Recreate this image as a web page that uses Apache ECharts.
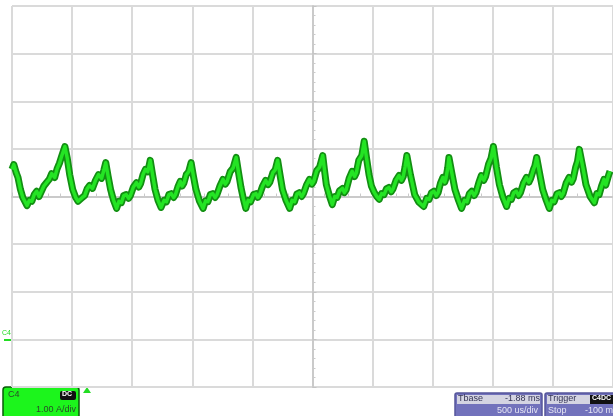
<!DOCTYPE html>
<html>
<head>
<meta charset="utf-8">
<script src="https://cdn.jsdelivr.net/npm/echarts@6/dist/echarts.min.js"></script>
<style>
html,body{margin:0;padding:0;background:#fff;}
#c{width:613px;height:416px;}
</style>
</head>
<body>
<div id="c"></div>
<script>
// Time in divisions (500 us/div), centred on the middle graticule line
const timeDiv = [
  -5.00,-4.97,-4.93,-4.90,-4.86,-4.82,-4.75,-4.71,-4.67,-4.63,-4.59,-4.55,-4.52,-4.47,-4.42,-4.38,-4.34,-4.29,-4.25,-4.21,-4.17,-4.12,-4.08,-4.04,-3.99,-3.94,-3.90,-3.87,
  -3.83,-3.79,-3.75,-3.71,-3.66,-3.61,-3.56,-3.51,-3.47,-3.44,-3.40,-3.36,-3.31,-3.26,
  -3.22,-3.18,-3.14,-3.10,-3.06,-3.03,-2.98,-2.93,-2.89,-2.86,-2.82,-2.78,-2.74,-2.70,-2.66,-2.62,-2.57,-2.52,
  -2.47,-2.43,-2.39,-2.35,-2.31,-2.28,-2.24,-2.20,-2.17,-2.14,-2.10,-2.06,-2.02,-1.98,-1.94,-1.88,-1.82,
  -1.78,-1.74,-1.70,-1.66,-1.62,-1.59,-1.54,-1.49,-1.45,-1.42,-1.37,-1.32,-1.27,-1.23,-1.19,-1.15,-1.11,
  -1.07,-1.03,-0.98,-0.94,-0.91,-0.88,-0.83,-0.78,-0.74,-0.71,-0.66,-0.62,-0.58,-0.54,-0.50,-0.44,-0.38,
  -0.34,-0.30,-0.26,-0.22,-0.18,-0.15,-0.10,-0.05,-0.01,0.02,0.07,0.12,0.17,0.20,0.23,0.28,0.33,
  0.37,0.41,0.45,0.50,0.53,0.56,0.61,0.66,0.70,0.73,0.77,0.82,0.86,0.90,0.94,0.98,1.03,1.07,1.11,
  1.15,1.19,1.23,1.27,1.31,1.34,1.39,1.44,1.48,1.51,1.54,1.57,1.63,1.70,1.77,1.85,
  1.90,1.94,1.98,2.02,2.06,2.09,2.13,2.17,2.20,2.22,2.25,2.27,2.32,2.37,2.43,2.48,
  2.53,2.57,2.61,2.65,2.69,2.72,2.77,2.81,2.85,2.88,2.93,2.97,3.01,3.06,3.11,3.17,3.23,
  3.27,3.31,3.35,3.39,3.43,3.46,3.51,3.56,3.60,3.63,3.68,3.70,3.73,3.78,3.83,3.89,3.94,
  3.98,4.02,4.07,4.11,4.14,4.17,4.22,4.27,4.31,4.34,4.38,4.41,4.44,4.50,4.55,4.62,4.69,
  4.73,4.77,4.81,4.85,4.88,4.90,4.93,4.95
];
// Channel C4 value in divisions (1.00 A/div)
const valueDiv = [
  0.57,0.67,0.50,0.40,0.15,-0.02,-0.19,-0.08,-0.10,0.04,0.11,0.00,0.04,0.22,0.30,0.36,0.48,0.40,0.58,0.70,0.86,1.05,0.80,0.46,0.15,-0.02,-0.10,-0.13,
  -0.02,0.02,0.16,0.23,0.17,0.34,0.46,0.38,0.56,0.71,0.42,0.15,-0.08,-0.25,
  -0.10,-0.13,0.02,0.04,-0.04,0.02,0.20,0.29,0.20,0.27,0.46,0.57,0.52,0.76,0.45,0.15,-0.08,-0.23,
  -0.08,-0.11,0.04,0.06,-0.02,0.04,0.20,0.32,0.22,0.28,0.46,0.52,0.71,0.42,0.15,-0.10,-0.25,
  -0.09,-0.11,0.04,0.06,-0.02,0.04,0.22,0.36,0.26,0.32,0.52,0.60,0.82,0.50,0.19,-0.05,-0.25,
  -0.08,-0.11,0.04,0.06,-0.02,0.04,0.22,0.34,0.25,0.30,0.50,0.56,0.76,0.45,0.15,-0.08,-0.25,
  -0.08,-0.11,0.05,0.08,0.00,0.06,0.24,0.36,0.26,0.32,0.54,0.62,0.86,0.55,0.25,0.02,-0.17,
  0.00,-0.02,0.12,0.17,0.08,0.14,0.38,0.53,0.42,0.50,0.76,0.86,1.16,0.80,0.46,0.22,0.08,0.00,-0.06,
  0.06,0.04,0.16,0.19,0.10,0.16,0.34,0.44,0.34,0.42,0.62,0.86,0.45,0.04,-0.12,-0.21,
  -0.04,-0.06,0.08,0.11,0.02,0.08,0.28,0.40,0.30,0.38,0.60,0.82,0.48,0.15,-0.08,-0.25,
  -0.08,-0.11,0.06,0.11,0.02,0.08,0.30,0.44,0.34,0.42,0.68,0.80,1.05,0.62,0.25,-0.02,-0.21,
  -0.04,-0.06,0.08,0.11,0.02,0.08,0.28,0.40,0.30,0.38,0.58,0.64,0.82,0.48,0.15,-0.08,-0.25,
  -0.08,-0.11,0.06,0.08,0.00,0.06,0.28,0.40,0.30,0.38,0.62,0.74,0.99,0.60,0.25,0.00,-0.13,
  0.06,0.04,0.22,0.36,0.24,0.27,0.46,0.53
];
const chLabel = 'C4';
const voltsDiv = '1.00 A/div';
const tbaseLabel = 'Tbase';
const tbaseValue = '-1.88 ms';
const timeDivLabel = '500 us/div';
const trigLabel = 'Trigger';
const trigMode = 'Stop';
const trigLevel = '-100 mA';

const trace = timeDiv.map((t, i) => [t, valueDiv[i]]);

const chart = echarts.init(document.getElementById('c'));
const gridCol = '#dadada';
const font = 'Liberation Sans, Arial, sans-serif';
chart.setOption({
  backgroundColor: '#ffffff',
  animation: false,
  grid: { left: 12, right: -3, top: 6, bottom: 29 },
  xAxis: {
    type: 'value', min: -5, max: 5, interval: 1,
    axisLine: { show: true, onZero: true, lineStyle: { color: '#cacaca', width: 2 } },
    axisTick: { show: true, inside: true, length: 4, lineStyle: { color: '#c4c4c4' } },
    minorTick: { show: true, splitNumber: 5, length: 3, lineStyle: { color: '#cacaca' } },
    axisLabel: { show: false },
    splitLine: { show: true, lineStyle: { color: gridCol, width: 2 } }
  },
  yAxis: {
    type: 'value', min: -4, max: 4, interval: 1,
    axisLine: { show: true, onZero: true, lineStyle: { color: '#cacaca', width: 2 } },
    axisTick: { show: true, inside: true, length: 4, lineStyle: { color: '#c4c4c4' } },
    minorTick: { show: true, splitNumber: 5, length: 3, lineStyle: { color: '#cacaca' } },
    axisLabel: { show: false },
    splitLine: { show: true, lineStyle: { color: gridCol, width: 2 } }
  },
  series: [
    { type: 'line', data: trace, showSymbol: false, z: 3,
      lineStyle: { color: '#128f12', width: 7, join: 'round' } },
    { type: 'line', data: trace, showSymbol: false, z: 4,
      lineStyle: { color: '#24e424', width: 3.5, join: 'round' } }
  ],
  graphic: [
    { type: 'text', left: 2, top: 330, style: { text: chLabel, fill: '#22dd22', font: '7px ' + font } },
    { type: 'rect', shape: { x: 4, y: 339, width: 9, height: 2 }, style: { fill: '#22dd22' } },
    { type: 'polygon', shape: { points: [[83, 393], [87, 387], [91, 393]] }, style: { fill: '#22dd22' } },
    { type: 'rect', shape: { x: 3, y: 387, width: 76, height: 40, r: 3 },
      style: { fill: '#1cf51c', stroke: '#0a5a0a', lineWidth: 1.5 } },
    { type: 'text', left: 8, top: 390, style: { text: chLabel, fill: '#2a4a2a', font: '9px ' + font } },
    { type: 'rect', shape: { x: 60, y: 391, width: 16, height: 9, r: 2 }, style: { fill: '#111' } },
    { type: 'text', left: 62, top: 391, style: { text: 'DC', fill: '#fff', font: 'bold 7px ' + font } },
    { type: 'text', right: 537, top: 405, style: { text: voltsDiv, fill: '#2a4a2a', font: '9px ' + font, align: 'right' } },
    { type: 'rect', shape: { x: 455, y: 393, width: 87, height: 30, r: 2 },
      style: { fill: '#7272bc', stroke: '#55559a', lineWidth: 1.5 } },
    { type: 'rect', shape: { x: 457, y: 395, width: 83, height: 9 }, style: { fill: '#d4d4e2' } },
    { type: 'text', left: 458, top: 394, style: { text: tbaseLabel, fill: '#333355', font: '9px ' + font } },
    { type: 'text', right: 73, top: 394, style: { text: tbaseValue, fill: '#333355', font: '9px ' + font } },
    { type: 'text', right: 75, top: 406, style: { text: timeDivLabel, fill: '#e6e6f4', font: '9px ' + font } },
    { type: 'rect', shape: { x: 545, y: 393, width: 80, height: 30, r: 2 },
      style: { fill: '#7272bc', stroke: '#55559a', lineWidth: 1.5 } },
    { type: 'rect', shape: { x: 547, y: 395, width: 70, height: 9 }, style: { fill: '#d4d4e2' } },
    { type: 'text', left: 548, top: 394, style: { text: trigLabel, fill: '#333355', font: '9px ' + font } },
    { type: 'rect', shape: { x: 590, y: 395, width: 30, height: 9 }, style: { fill: '#111' } },
    { type: 'text', left: 592, top: 395, style: { text: 'C4DC', fill: '#fff', font: 'bold 7px ' + font } },
    { type: 'text', left: 548, top: 406, style: { text: trigMode, fill: '#e6e6f4', font: '9px ' + font } },
    { type: 'text', left: 585, top: 406, style: { text: trigLevel, fill: '#e6e6f4', font: '9px ' + font } }
  ]
});
</script>
</body>
</html>
